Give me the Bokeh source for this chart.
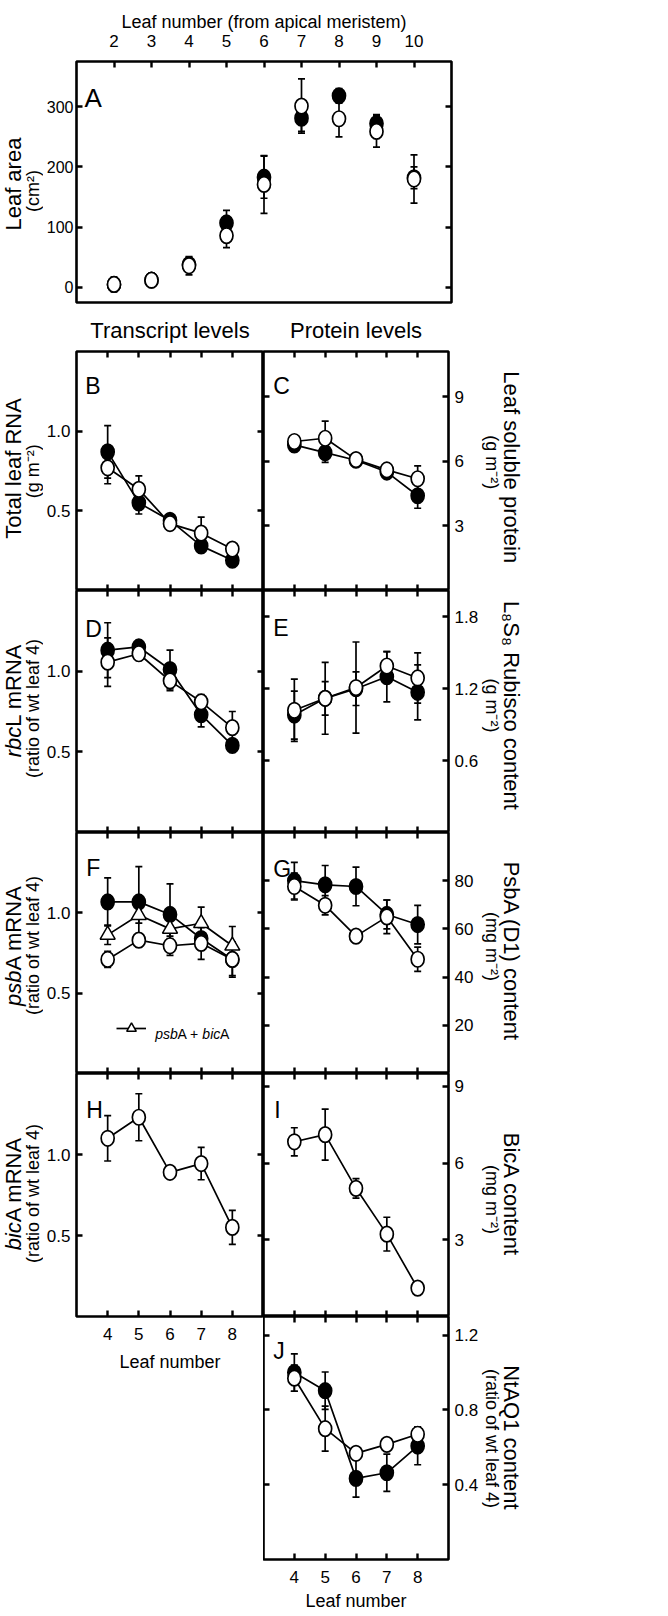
import math
from bokeh.plotting import figure
from bokeh.models import (LinearAxis, FixedTicker, Label, Whisker, TeeHead,
                          ColumnDataSource, Legend, LegendItem, PrintfTickFormatter)
from bokeh.layouts import column, row
from bokeh.embed import file_html
from bokeh.resources import INLINE

# ---------------- data ----------------
leaf_top = [2, 3, 4, 5, 6, 7, 8, 9, 10]
leaf = [4, 5, 6, 7, 8]

area_wt = [5, 12, 38, 107, 183, 281, 318, 272, 182]
area_wt_err = [8, 8, 12, 21, 35, 22, 12, 15, 18]
area_tr = [5, 12, 36, 86, 171, 301, 280, 259, 180]
area_tr_err = [12, 11, 15, 20, 48, 45, 30, 26, 40]

rna_wt = [0.87, 0.55, 0.44, 0.28, 0.19]
rna_wt_err = [0.165, 0.07, 0.04, 0.03, 0.03]
rna_tr = [0.77, 0.635, 0.42, 0.36, 0.26]
rna_tr_err = [0.10, 0.085, 0.04, 0.10, 0.03]

prot_wt = [6.76, 6.40, 6.05, 5.50, 4.40]
prot_wt_err = [0.20, 0.45, 0.20, 0.25, 0.58]
prot_tr = [6.92, 7.07, 6.08, 5.60, 5.19]
prot_tr_err = [0.15, 0.80, 0.20, 0.20, 0.60]

rbcl_wt = [1.13, 1.15, 1.01, 0.73, 0.54]
rbcl_wt_err = [0.17, 0.04, 0.12, 0.075, 0.03]
rbcl_tr = [1.056, 1.108, 0.94, 0.81, 0.65]
rbcl_tr_err = [0.15, 0.03, 0.06, 0.045, 0.10]

rub_wt = [0.98, 1.12, 1.20, 1.30, 1.17]
rub_wt_err = [0.20, 0.14, 0.14, 0.21, 0.23]
rub_tr = [1.02, 1.12, 1.21, 1.39, 1.29]
rub_tr_err = [0.26, 0.30, 0.38, 0.12, 0.21]

psba_wt = [1.068, 1.068, 0.99, 0.84, 0.71]
psba_wt_err = [0.15, 0.22, 0.19, 0.07, 0.11]
psba_tr = [0.71, 0.83, 0.795, 0.81, 0.71]
psba_tr_err = [0.05, 0.04, 0.06, 0.10, 0.10]
psba_bica = [0.863, 0.986, 0.90, 0.935, 0.795]
psba_bica_err = [0.06, 0.05, 0.06, 0.10, 0.12]

d1_wt = [80.0, 78.3, 77.6, 66.0, 61.8]
d1_wt_err = [7.6, 8.0, 8.0, 6.0, 8.0]
d1_tr = [77.6, 69.8, 57.0, 65.0, 47.4]
d1_tr_err = [5.6, 4.0, 2.0, 7.0, 5.0]

bica_mrna = [1.10, 1.23, 0.89, 0.944, 0.55]
bica_mrna_err = [0.14, 0.145, 0.02, 0.10, 0.105]

bica_prot = [6.83, 7.11, 5.01, 3.22, 1.11]
bica_prot_err = [0.55, 1.00, 0.38, 0.66, 0.15]

aq1_wt = [1.00, 0.903, 0.434, 0.464, 0.607]
aq1_wt_err = [0.10, 0.10, 0.10, 0.10, 0.10]
aq1_tr = [0.97, 0.70, 0.568, 0.616, 0.67]
aq1_tr_err = [0.07, 0.12, 0.03, 0.03, 0.04]

# ---------------- style ----------------
FONT = "Liberation Sans"
LW_FRAME = 2.6
TICK_W = 2.4
TICK_LEN = 6
MK_W, MK_H = 13, 15.5
MAIN_FS, SUB_FS = 22, 18
MAIN_XL, SUB_XL = 12.5, 32      # left label centre lines
MAIN_XR, SUB_XR = 511, 491      # right label centre lines

HW = {'a': 556, 'b': 556, 'c': 500, 'd': 556, 'e': 556, 'f': 278, 'g': 556, 'h': 556,
      'i': 222, 'j': 222, 'k': 500, 'l': 222, 'm': 833, 'n': 556, 'o': 556, 'p': 556,
      'q': 556, 'r': 333, 's': 500, 't': 278, 'u': 556, 'v': 500, 'w': 722, 'x': 500,
      'y': 500, 'z': 500, 'A': 667, 'B': 667, 'C': 722, 'D': 722, 'E': 667, 'F': 611,
      'G': 778, 'H': 722, 'I': 278, 'J': 500, 'K': 667, 'L': 556, 'M': 833, 'N': 722,
      'O': 778, 'P': 667, 'Q': 778, 'R': 722, 'S': 667, 'T': 611, 'U': 722, 'V': 667,
      'W': 944, 'X': 667, 'Y': 667, 'Z': 611, ' ': 278, '+': 584, '(': 333, ')': 333,
      '.': 278}


def tw(s, size):
    return sum(HW.get(ch, 556) for ch in s) / 1000.0 * size


def base_fig(width, height, xr, yr, bl, br, bt, bb, x_loc="below", y_loc="left"):
    p = figure(width=width, height=height, x_range=xr, y_range=yr,
               x_axis_location=x_loc, y_axis_location=y_loc,
               toolbar_location=None, output_backend="svg",
               min_border_left=bl, min_border_right=br,
               min_border_top=bt, min_border_bottom=bb)
    p.grid.visible = False
    p.outline_line_color = "black"
    p.outline_line_width = LW_FRAME
    p.background_fill_color = "white"
    p.border_fill_color = "white"
    return p


def strip_fig(x_start, y_start, width, height):
    """A frame-only figure whose data coordinates equal page pixels."""
    p = figure(width=width, height=height, x_range=(x_start, x_start + width),
               y_range=(y_start + height, y_start), x_axis_type=None, y_axis_type=None,
               toolbar_location=None, output_backend="svg",
               min_border_left=0, min_border_right=0, min_border_top=0, min_border_bottom=0)
    p.outline_line_color = None
    p.background_fill_color = "white"
    p.border_fill_color = "white"
    g = dict(x0=x_start, x1=x_start + width, y0=y_start + height, y1=y_start,
             left=x_start, right=x_start + width, top=y_start, bottom=y_start + height)
    return p, g


def style_axis(ax, ticks, show=True, standoff=6, decimals=False, size=17):
    ax.ticker = FixedTicker(ticks=ticks)
    ax.axis_line_color = None
    ax.major_tick_in = TICK_LEN
    ax.major_tick_out = 0
    ax.major_tick_line_width = TICK_W
    ax.major_tick_line_color = "black"
    ax.minor_tick_line_color = None
    if show:
        ax.major_label_text_font = FONT
        ax.major_label_text_font_size = f"{size}px"
        ax.major_label_text_color = "black"
        ax.major_label_standoff = standoff
        if decimals:
            ax.formatter = PrintfTickFormatter(format="%.1f")
    else:
        ax.major_label_text_font_size = "0px"
        ax.major_label_text_color = None
        ax.major_label_standoff = 0


def axis_title(ax, text, size, standoff):
    ax.axis_label = text
    ax.axis_label_text_font = FONT
    ax.axis_label_text_font_size = f"{size}px"
    ax.axis_label_text_font_style = "normal"
    ax.axis_label_text_color = "black"
    ax.axis_label_standoff = standoff


def to_data(g, sx, sy):
    x = g["x0"] + (sx - g["left"]) * (g["x1"] - g["x0"]) / (g["right"] - g["left"])
    y = g["y0"] + (g["bottom"] - sy) * (g["y1"] - g["y0"]) / (g["bottom"] - g["top"])
    return x, y


def lab(p, g, sx, sy, text, size, style="normal", angle=0.0,
        align="center", baseline="middle"):
    x, y = to_data(g, sx, sy)
    p.add_layout(Label(x=x, y=y, x_units="data", y_units="data",
                       text=text, text_font=FONT, text_font_size=f"{size}px",
                       text_font_style=style, angle=angle, text_align=align,
                       text_baseline=baseline, text_color="black"))


def rot_label(p, g, sx, sy, pieces, size, up=True):
    total = sum(tw(t, size) for t, _ in pieces)
    cum = 0.0
    for t, st in pieces:
        if up:
            pos = sy + total / 2 - cum
            ang = math.pi / 2
        else:
            pos = sy - total / 2 + cum
            ang = -math.pi / 2
        lab(p, g, sx, pos, t, size, style=st, angle=ang, align="left")
        cum += tw(t, size)


def hor_label(p, g, sx, sy, pieces, size):
    cum = 0.0
    for t, st in pieces:
        lab(p, g, sx + cum, sy, t, size, style=st, align="left", baseline="alphabetic")
        cum += tw(t, size)


def draw_series(p, x, series, lines=True):
    if lines:
        for y, e, kind in series:
            p.line(x, y, line_color="black", line_width=1.7)
    for y, e, kind in series:
        src = ColumnDataSource(dict(x=x, lo=[a - b for a, b in zip(y, e)],
                                    hi=[a + b for a, b in zip(y, e)]))
        p.add_layout(Whisker(base="x", lower="lo", upper="hi", source=src,
                             line_color="black", line_width=1.7,
                             upper_head=TeeHead(size=7, line_width=1.7, line_color="black"),
                             lower_head=TeeHead(size=7, line_width=1.7, line_color="black")))
    rends = {}
    for want in ("filled", "tri", "open"):
        for y, e, kind in series:
            if kind != want:
                continue
            if kind == "tri":
                r = p.scatter(x, y, marker="triangle", size=15, fill_color="white",
                              line_color="black", line_width=1.5)
            else:
                r = p.ellipse(x=x, y=y, width=MK_W, height=MK_H,
                              width_units="screen", height_units="screen",
                              fill_color="black" if kind == "filled" else "white",
                              line_color="black", line_width=1.7)
            rends[kind] = r
    return rends


# ---------------- geometry (page px) ----------------
STRIP_W = 43           # left label strips: x 0..43
LCOL_L, MID, RCOL_R = 73, 263, 451
STRIP_R0 = 481         # right label strip starts here
A_TOP, A_BOT = 61, 302
ROWS = [(351, 590), (590, 832), (832, 1073), (1073, 1316), (1316, 1559)]
BL = LCOL_L - STRIP_W  # left border of left-column figures (tick labels)
BR = STRIP_R0 - RCOL_R  # right border of right-column figures
ROW_A_H = 305
A_W = BL + (RCOL_R - LCOL_L) + 5

sA, gsA = strip_fig(0, 0, STRIP_W, ROW_A_H)
sL, gsL = strip_fig(0, ROW_A_H, STRIP_W, 1320 - ROW_A_H)
sR, gsR = strip_fig(STRIP_R0, ROW_A_H, 56, 1560 - ROW_A_H)

# ---------------- panel A ----------------
A_RANGE_X, A_RANGE_Y = (1, 11), (-25, 375)
pA = base_fig(A_W, ROW_A_H, A_RANGE_X, A_RANGE_Y, BL, 5, A_TOP,
              ROW_A_H - A_BOT, x_loc="above", y_loc="left")
style_axis(pA.xaxis[0], leaf_top, True, 15)
axis_title(pA.xaxis[0], "Leaf number (from apical meristem)", 18, 0)
style_axis(pA.yaxis[0], [0, 100, 200, 300], True, 3, size=16)
axA_r = LinearAxis()
style_axis(axA_r, [0, 100, 200, 300], False)
pA.add_layout(axA_r, "right")
draw_series(pA, leaf_top, [(area_wt, area_wt_err, "filled"),
                           (area_tr, area_tr_err, "open")], lines=False)
gA = dict(x0=A_RANGE_X[0], x1=A_RANGE_X[1], y0=A_RANGE_Y[0], y1=A_RANGE_Y[1],
          left=LCOL_L, right=RCOL_R, top=A_TOP, bottom=A_BOT)
lab(pA, gA, 81, 97, "A", 26, align="left", baseline="alphabetic")
rot_label(sA, gsA, MAIN_XL, 167.5, [("Leaf area", "normal")], MAIN_FS)
rot_label(sA, gsA, SUB_XL, 167.5, [("(cm\u00b2)", "normal")], SUB_FS)


# ---------------- grid panels ----------------
def grid_panel(side, ri, yr, yticks, top_title=None, bottom_labels=False, bb=0,
               decimals=False, lab_standoff=9):
    top, bottom = ROWS[ri]
    h = bottom - top
    bt = ROWS[0][0] - ROW_A_H if ri == 0 else 0
    if side == "L":
        p = base_fig(BL + (MID - LCOL_L), h + bt + bb, (3, 9), yr, BL, 0, bt, bb,
                     y_loc="left")
        left, right = LCOL_L, MID
        style_axis(p.yaxis[0], yticks, True, 6, decimals)
        mirror = LinearAxis()
        style_axis(mirror, yticks, False)
        p.add_layout(mirror, "right")
    else:
        p = base_fig((RCOL_R - MID) + BR, h + bt + bb, (3, 9), yr, 0, BR, bt, bb,
                     y_loc="right")
        left, right = MID, RCOL_R
        style_axis(p.yaxis[0], yticks, True, 6, decimals)
        mirror = LinearAxis()
        style_axis(mirror, yticks, False)
        p.add_layout(mirror, "left")
    style_axis(p.xaxis[0], leaf, bottom_labels, 11)
    if bottom_labels:
        axis_title(p.xaxis[0], "Leaf number", 18, lab_standoff)
    above = LinearAxis()
    style_axis(above, leaf, False)
    if top_title:
        axis_title(above, top_title, 22, 9)
    p.add_layout(above, "above")
    g = dict(x0=3, x1=9, y0=yr[0], y1=yr[1], left=left, right=right, top=top, bottom=bottom)
    return p, g


# B
pB, gB = grid_panel("L", 0, (0, 1.5), [0.5, 1.0], top_title="Transcript levels",
                    decimals=True)
draw_series(pB, leaf, [(rna_wt, rna_wt_err, "filled"), (rna_tr, rna_tr_err, "open")])
lab(pB, gB, 82, 385, "B", 23, align="left", baseline="alphabetic")
rot_label(sL, gsL, MAIN_XL, 466.7, [("Total leaf RNA", "normal")], MAIN_FS)
rot_label(sL, gsL, SUB_XL, 466.7, [("(g m\u207b\u00b2)", "normal")], SUB_FS)

# C
pC, gC = grid_panel("R", 0, (0, 11.1), [3, 6, 9], top_title="Protein levels")
draw_series(pC, leaf, [(prot_wt, prot_wt_err, "filled"), (prot_tr, prot_tr_err, "open")])
lab(pC, gC, 273, 385, "C", 23, align="left", baseline="alphabetic")
rot_label(sR, gsR, MAIN_XR, 466.7, [("Leaf soluble protein", "normal")], MAIN_FS, up=False)
rot_label(sR, gsR, SUB_XR, 465.7, [("(g m\u207b\u00b2)", "normal")], SUB_FS, up=False)

# D
pD, gD = grid_panel("L", 1, (0, 1.5), [0.5, 1.0], decimals=True)
draw_series(pD, leaf, [(rbcl_wt, rbcl_wt_err, "filled"), (rbcl_tr, rbcl_tr_err, "open")])
lab(pD, gD, 82, 628, "D", 23, align="left", baseline="alphabetic")
rot_label(sL, gsL, MAIN_XL, 700, [("rbc", "italic"), ("L mRNA", "normal")], MAIN_FS)
rot_label(sL, gsL, SUB_XL, 708, [("(ratio of wt leaf 4)", "normal")], SUB_FS)

# E
pE, gE = grid_panel("R", 1, (0, 2.02), [0.6, 1.2, 1.8], decimals=True)
draw_series(pE, leaf, [(rub_wt, rub_wt_err, "filled"), (rub_tr, rub_tr_err, "open")])
lab(pE, gE, 273, 627, "E", 23, align="left", baseline="alphabetic")
rot_label(sR, gsR, MAIN_XR, 708, [("L\u2088S\u2088 Rubisco content", "normal")], MAIN_FS,
          up=False)
rot_label(sR, gsR, SUB_XR, 709, [("(g m\u207b\u00b2)", "normal")], SUB_FS, up=False)

# F
pF, gF = grid_panel("L", 2, (0, 1.5), [0.5, 1.0], decimals=True)
rF = draw_series(pF, leaf, [(psba_wt, psba_wt_err, "filled"),
                            (psba_bica, psba_bica_err, "tri"),
                            (psba_tr, psba_tr_err, "open")])
lab(pF, gF, 83, 867, "F", 23, align="left", baseline="alphabetic")
rot_label(sL, gsL, MAIN_XL, 945, [("psb", "italic"), ("A mRNA", "normal")], MAIN_FS)
rot_label(sL, gsL, SUB_XL, 945, [("(ratio of wt leaf 4)", "normal")], SUB_FS)
tri_line = pF.renderers[1]
legF = Legend(items=[LegendItem(label=" ", renderers=[tri_line, rF["tri"]])],
              location=(40, 33), padding=0, margin=0, spacing=0,
              glyph_width=30, glyph_height=24, label_width=0, label_standoff=0,
              label_text_font_size="10px", border_line_color=None,
              background_fill_alpha=0)
pF.add_layout(legF)
hor_label(pF, gF, 153, 1033, [("psb", "italic"), ("A + ", "normal"),
                              ("bic", "italic"), ("A", "normal")], 14)

# G
pG, gG = grid_panel("R", 2, (0, 100), [20, 40, 60, 80])
draw_series(pG, leaf, [(d1_wt, d1_wt_err, "filled"), (d1_tr, d1_tr_err, "open")])
lab(pG, gG, 273, 868, "G", 23, align="left", baseline="alphabetic")
rot_label(sR, gsR, MAIN_XR, 951, [("PsbA (D1) content", "normal")], MAIN_FS, up=False)
rot_label(sR, gsR, SUB_XR, 950, [("(mg m\u207b\u00b2)", "normal")], SUB_FS, up=False)

# H
pH, gH = grid_panel("L", 3, (0, 1.5), [0.5, 1.0], bottom_labels=True, bb=65,
                    decimals=True, lab_standoff=9)
draw_series(pH, leaf, [(bica_mrna, bica_mrna_err, "open")])
lab(pH, gH, 83, 1109, "H", 23, align="left", baseline="alphabetic")
rot_label(sL, gsL, MAIN_XL, 1193, [("bic", "italic"), ("A mRNA", "normal")], MAIN_FS)
rot_label(sL, gsL, SUB_XL, 1193, [("(ratio of wt leaf 4)", "normal")], SUB_FS)

# I
pI, gI = grid_panel("R", 3, (0, 9.5), [3, 6, 9])
draw_series(pI, leaf, [(bica_prot, bica_prot_err, "open")])
lab(pI, gI, 274, 1109, "I", 23, align="left", baseline="alphabetic")
rot_label(sR, gsR, MAIN_XR, 1194, [("BicA content", "normal")], MAIN_FS, up=False)
rot_label(sR, gsR, SUB_XR, 1203, [("(mg m\u207b\u00b2)", "normal")], SUB_FS, up=False)

# J
pJ, gJ = grid_panel("R", 4, (0, 1.3), [0.4, 0.8, 1.2], bottom_labels=True, bb=56,
                    decimals=True, lab_standoff=5)
draw_series(pJ, leaf, [(aq1_wt, aq1_wt_err, "filled"), (aq1_tr, aq1_tr_err, "open")])
lab(pJ, gJ, 273, 1350, "J", 23, align="left", baseline="alphabetic")
rot_label(sR, gsR, MAIN_XR, 1437, [("NtAQ1 content", "normal")], MAIN_FS, up=False)
rot_label(sR, gsR, SUB_XR, 1438, [("(ratio of wt leaf 4)", "normal")], SUB_FS, up=False)

colL = column(pB, pD, pF, pH, spacing=0)
colR = column(pC, pE, pG, pI, pJ, spacing=0)
rowA = row(sA, pA, spacing=0)
rowB = row(sL, colL, colR, sR, spacing=0)
layout = column(rowA, rowB, spacing=0)

open("out.html", "w").write(file_html(layout, INLINE))
